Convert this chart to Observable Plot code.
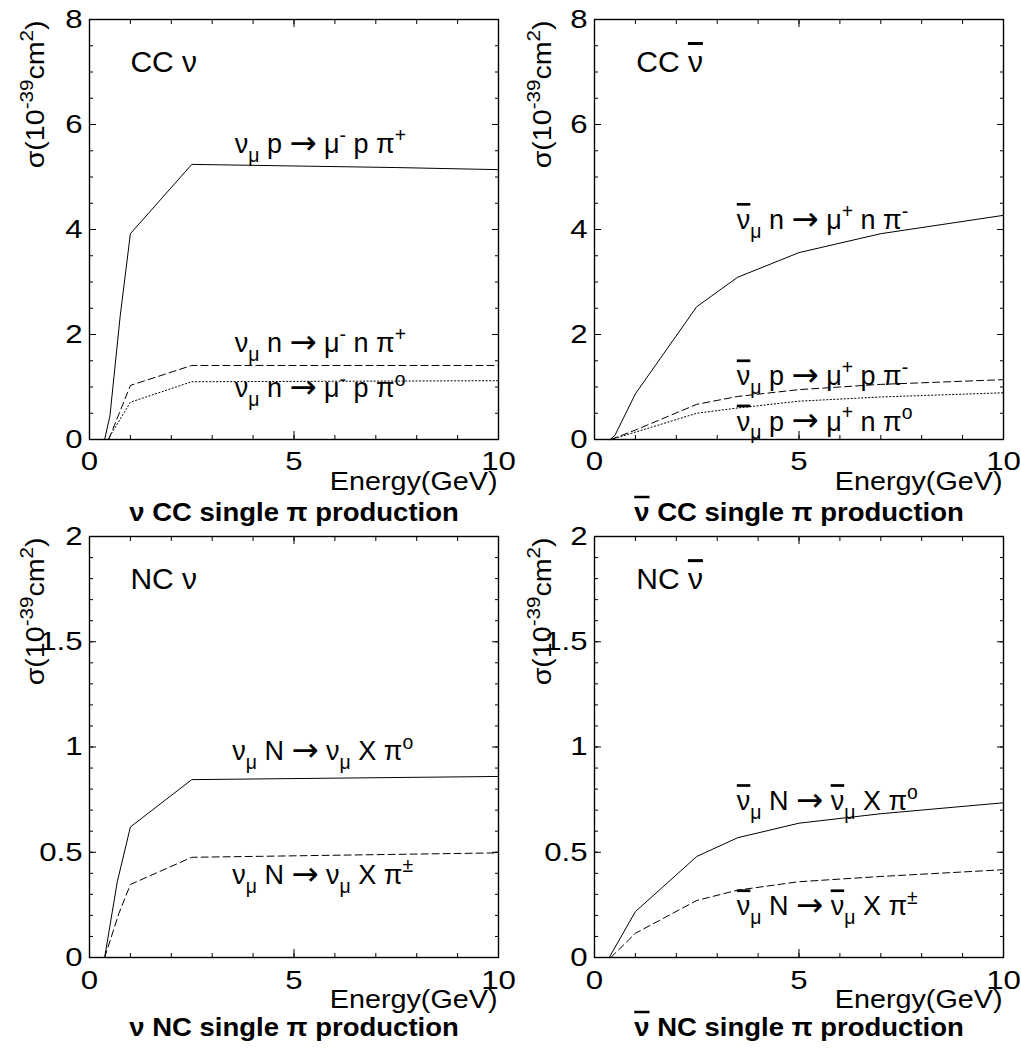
<!DOCTYPE html>
<html>
<head>
<meta charset="utf-8">
<script src="https://cdn.jsdelivr.net/npm/d3@7"></script>
<script src="https://cdn.jsdelivr.net/npm/@observablehq/plot@0.6"></script>
<style>
  html, body { margin: 0; padding: 0; background: #fff; }
  #grid { display: grid; grid-template-columns: 510px 511px; grid-template-rows: 528px 520px; width: 1021px; height: 1048px; }
  #grid svg { overflow: visible; }
  tspan.bar { text-decoration: overline; text-decoration-thickness: 1.4px; }
</style>
</head>
<body>
<div id="grid"></div>
<script>
// ---------- tick labels ----------
const energyTicks = [0, 5, 10];
const ccTicks = [0, 2, 4, 6, 8];
const ncTicks = [0, 0.5, 1, 1.5, 2];

// ---------- CC nu (top-left) ----------
const ccNu_ppip_E = [0.37, 0.5, 0.75, 1.0, 2.5, 5, 7.5, 10];
const ccNu_ppip_sigma = [0, 0.45, 2.35, 3.92, 5.24, 5.21, 5.18, 5.14];
const ccNu_nnpip_E = [0.47, 1.0, 2.5, 10];
const ccNu_nnpip_sigma = [0, 1.03, 1.41, 1.41];
const ccNu_nppi0_E = [0.45, 1.0, 2.5, 10];
const ccNu_nppi0_sigma = [0, 0.71, 1.10, 1.12];

// ---------- CC nubar (top-right) ----------
const ccNubar_nnpim_E = [0.38, 0.5, 1.0, 2.5, 3.5, 5, 7, 10];
const ccNubar_nnpim_sigma = [0, 0.08, 0.87, 2.53, 3.09, 3.56, 3.92, 4.27];
const ccNubar_pppim_E = [0.4, 1.0, 2.5, 3.5, 5, 7, 10];
const ccNubar_pppim_sigma = [0, 0.18, 0.67, 0.82, 0.95, 1.05, 1.14];
const ccNubar_pnpi0_E = [0.4, 1.0, 2.5, 3.5, 5, 7, 10];
const ccNubar_pnpi0_sigma = [0, 0.14, 0.50, 0.60, 0.73, 0.81, 0.89];

// ---------- NC nu (bottom-left) ----------
const ncNu_pi0_E = [0.37, 0.68, 1.0, 2.5, 10];
const ncNu_pi0_sigma = [0, 0.36, 0.62, 0.845, 0.86];
const ncNu_pipm_E = [0.37, 0.72, 1.0, 2.5, 10];
const ncNu_pipm_sigma = [0, 0.21, 0.347, 0.476, 0.497];

// ---------- NC nubar (bottom-right) ----------
const ncNubar_pi0_E = [0.36, 1.0, 2.5, 3.5, 5, 7, 10];
const ncNubar_pi0_sigma = [0, 0.218, 0.48, 0.569, 0.638, 0.683, 0.735];
const ncNubar_pipm_E = [0.4, 1.0, 2.5, 3.5, 5, 7, 10];
const ncNubar_pipm_sigma = [0, 0.115, 0.271, 0.32, 0.36, 0.385, 0.417];

// ---------- texts ----------
const panelTags = ["CC ν", "CC ν\u0304", "NC ν", "NC ν\u0304"];
const panelSubtitles = ["ν CC single π production", "ν\u0304 CC single π production",
                        "ν NC single π production", "ν\u0304 NC single π production"];
const ccNuReactions = ["ν_{μ} p → μ^{-} p π^{+}", "ν_{μ} n → μ^{-} n π^{+}", "ν_{μ} n → μ^{-} p π^{o}"];
const ccNubarReactions = ["ν\u0304_{μ} n → μ^{+} n π^{-}", "ν\u0304_{μ} p → μ^{+} p π^{-}", "ν\u0304_{μ} p → μ^{+} n π^{o}"];
const ncNuReactions = ["ν_{μ} N → ν_{μ} X π^{o}", "ν_{μ} N → ν_{μ} X π^{±}"];
const ncNubarReactions = ["ν\u0304_{μ} N → ν\u0304_{μ} X π^{o}", "ν\u0304_{μ} N → ν\u0304_{μ} X π^{±}"];
const yTitle = "σ(10^{-39}cm^{2})";
const xTitle = "Energy(GeV)";

// annotation anchors (data units)
const ccNuLabelE = [3.55, 3.55, 3.55], ccNuLabelSigma = [5.46, 1.66, 0.81];
const ccNubarLabelE = [3.48, 3.48, 3.48], ccNubarLabelSigma = [4.01, 1.03, 0.17];
const ncNuLabelE = [3.49, 3.49], ncNuLabelSigma = [0.936, 0.35];
const ncNubarLabelE = [3.48, 3.48], ncNubarLabelSigma = [0.70, 0.20];
const tagE = [1.0, 1.02, 1.0, 1.02], tagSigma = [7.0, 7.0, 1.75, 1.75];

const dashes = {solid: null, dashed: "7,4", dotted: "1.2,2.3"};
const FONT = "'Liberation Sans', Arial, Helvetica, sans-serif";

function zip(E, S) { return E.map((e, i) => ({E: e, sigma: S[i]})); }

const panels = [
  {col: 0, row: 0, yDomain: [0, 8], yMajor: ccTicks, yMinor: d3.range(0, 8.01, 0.5), tag: 0,
   series: [[ccNu_ppip_E, ccNu_ppip_sigma, "solid"], [ccNu_nnpip_E, ccNu_nnpip_sigma, "dashed"], [ccNu_nppi0_E, ccNu_nppi0_sigma, "dotted"]],
   labels: ccNuReactions, lE: ccNuLabelE, lS: ccNuLabelSigma},
  {col: 1, row: 0, yDomain: [0, 8], yMajor: ccTicks, yMinor: d3.range(0, 8.01, 0.5), tag: 1,
   series: [[ccNubar_nnpim_E, ccNubar_nnpim_sigma, "solid"], [ccNubar_pppim_E, ccNubar_pppim_sigma, "dashed"], [ccNubar_pnpi0_E, ccNubar_pnpi0_sigma, "dotted"]],
   labels: ccNubarReactions, lE: ccNubarLabelE, lS: ccNubarLabelSigma},
  {col: 0, row: 1, yDomain: [0, 2], yMajor: ncTicks, yMinor: d3.range(0, 2.001, 0.1), tag: 2,
   series: [[ncNu_pi0_E, ncNu_pi0_sigma, "solid"], [ncNu_pipm_E, ncNu_pipm_sigma, "dashed"]],
   labels: ncNuReactions, lE: ncNuLabelE, lS: ncNuLabelSigma},
  {col: 1, row: 1, yDomain: [0, 2], yMajor: ncTicks, yMinor: d3.range(0, 2.001, 0.1), tag: 3,
   series: [[ncNubar_pi0_E, ncNubar_pi0_sigma, "solid"], [ncNubar_pipm_E, ncNubar_pipm_sigma, "dashed"]],
   labels: ncNubarReactions, lE: ncNubarLabelE, lS: ncNubarLabelSigma}
];

// turn simple markup (_{..}, ^{..}, ν + combining bar, arrow) into tspans
function richify(svg) {
  d3.select(svg).selectAll("text").each(function () {
    const raw = this.textContent;
    if (!/[_^]\{|\u0304|→/.test(raw)) return;
    const fs = parseFloat(getComputedStyle(this).fontSize) || 24;
    const parts = [];
    const re = /([_^])\{([^}]*)\}|(.)\u0304|(→)/gu;
    let last = 0, m;
    while ((m = re.exec(raw))) {
      if (m.index > last) parts.push({t: raw.slice(last, m.index), k: ""});
      if (m[1]) parts.push({t: m[2], k: m[1]});
      else if (m[3]) parts.push({t: m[3], k: "bar"});
      else parts.push({t: "→", k: "arrow"});
      last = re.lastIndex;
    }
    if (last < raw.length) parts.push({t: raw.slice(last), k: ""});
    this.textContent = "";
    let shift = 0;
    for (const p of parts) {
      let target = 0, size = null, family = null;
      if (p.k === "^") { target = -0.42 * fs; size = 0.72 * fs; }
      else if (p.k === "_") { target = 0.33 * fs; size = 0.72 * fs; }
      else if (p.k === "arrow") { target = 0.03 * fs; size = 1.2 * fs; family = "'DejaVu Sans', sans-serif"; }
      const ts = d3.select(this).append("tspan").text(p.t);
      if (target !== shift) ts.attr("dy", (target - shift).toFixed(2));
      shift = target;
      if (size) ts.attr("font-size", size.toFixed(1));
      if (family) ts.attr("font-family", family).attr("font-weight", "normal");
      if (p.k === "bar") ts.attr("class", "bar");
    }
  });
}

function stretch(svg, selector, k) {
  svg.querySelectorAll(selector).forEach(t => {
    t.setAttribute("transform", (t.getAttribute("transform") || "") + ` scale(${k},1)`);
  });
}

const grid = document.getElementById("grid");
for (const p of panels) {
  const lay = p.col === 0 ? {marginLeft: 89, marginRight: 12, width: 510} : {marginLeft: 84, marginRight: 18, width: 511};
  const vr = p.row === 0 ? {marginTop: 19, marginBottom: 89, height: 528} : {marginTop: 8, marginBottom: 91, height: 520};
  const tickPad = p.row === 0 ? 12 : 13;
  const subDy = p.row === 0 ? 81 : 78;
  const lbl = p.labels.map((t, i) => ({t, E: p.lE[i], sigma: p.lS[i]}));
  const svg = Plot.plot({
    ...lay, ...vr,
    style: {fontFamily: FONT, color: "#000", background: "transparent", overflow: "visible"},
    x: {domain: [0, 10], label: null},
    y: {domain: p.yDomain, label: null},
    marks: [
      ...p.series.map(([E, S, kind]) => Plot.line(zip(E, S), {x: "E", y: "sigma", stroke: "#000", strokeWidth: 1, strokeDasharray: dashes[kind]})),
      // inward ticks on all four sides
      Plot.axisX({anchor: "bottom", ticks: d3.range(0, 10.01, 1), tickSize: -4, fill: "none"}),
      Plot.axisX({anchor: "bottom", ticks: [5], tickSize: -8, fill: "none"}),
      Plot.axisX({anchor: "top", ticks: d3.range(0, 10.01, 1), tickSize: -4, fill: "none"}),
      Plot.axisX({anchor: "top", ticks: [5], tickSize: -7, fill: "none"}),
      Plot.axisY({anchor: "left", ticks: p.yMinor, tickSize: -4, fill: "none"}),
      Plot.axisY({anchor: "left", ticks: p.yMajor, tickSize: -7, fill: "none"}),
      Plot.axisY({anchor: "right", ticks: p.yMinor, tickSize: -4, fill: "none"}),
      Plot.axisY({anchor: "right", ticks: p.yMajor, tickSize: -7, fill: "none"}),
      // tick labels
      Plot.axisX({anchor: "bottom", ticks: energyTicks, tickSize: 0, tickPadding: tickPad, tickFormat: d => String(d), fontSize: 26}),
      Plot.axisY({anchor: "left", ticks: p.yMajor, tickSize: 0, tickPadding: 7, tickFormat: d => String(d), fontSize: 26}),
      Plot.frame({stroke: "#000", strokeWidth: 1.4}),
      // titles
      Plot.text([yTitle], {text: d => d, frameAnchor: "top-left", rotate: -90, textAnchor: "end", lineAnchor: "bottom", dx: p.col === 0 ? -46 : -44, dy: 1, fontSize: 26, ariaDescription: "ytitle"}),
      Plot.text([xTitle], {text: d => d, frameAnchor: "bottom-right", textAnchor: "end", lineAnchor: "bottom", dy: 50, dx: -1, fontSize: 25, ariaDescription: "xtitle"}),
      Plot.text([panelSubtitles[p.tag]], {text: d => d, frameAnchor: "bottom", lineAnchor: "bottom", dy: subDy, fontSize: 25, fontWeight: "bold", ariaDescription: "subtitle"}),
      Plot.text([{t: panelTags[p.tag], E: tagE[p.tag], sigma: tagSigma[p.tag]}], {x: "E", y: "sigma", text: "t", textAnchor: "start", lineAnchor: "bottom", fontSize: 30, ariaDescription: "tag"}),
      Plot.text(lbl, {x: "E", y: "sigma", text: "t", textAnchor: "start", lineAnchor: "bottom", fontSize: 27, ariaDescription: "reaction"})
    ]
  });
  grid.appendChild(svg);
  richify(svg);
  stretch(svg, 'g[aria-label="x-axis tick label"] text, g[aria-label="y-axis tick label"] text', 1.2);
  stretch(svg, 'g[aria-description="xtitle"] text', 1.15);
  stretch(svg, 'g[aria-description="subtitle"] text', 1.1);
  stretch(svg, 'g[aria-description="ytitle"] text', 1.1);
}
</script>
</body>
</html>
